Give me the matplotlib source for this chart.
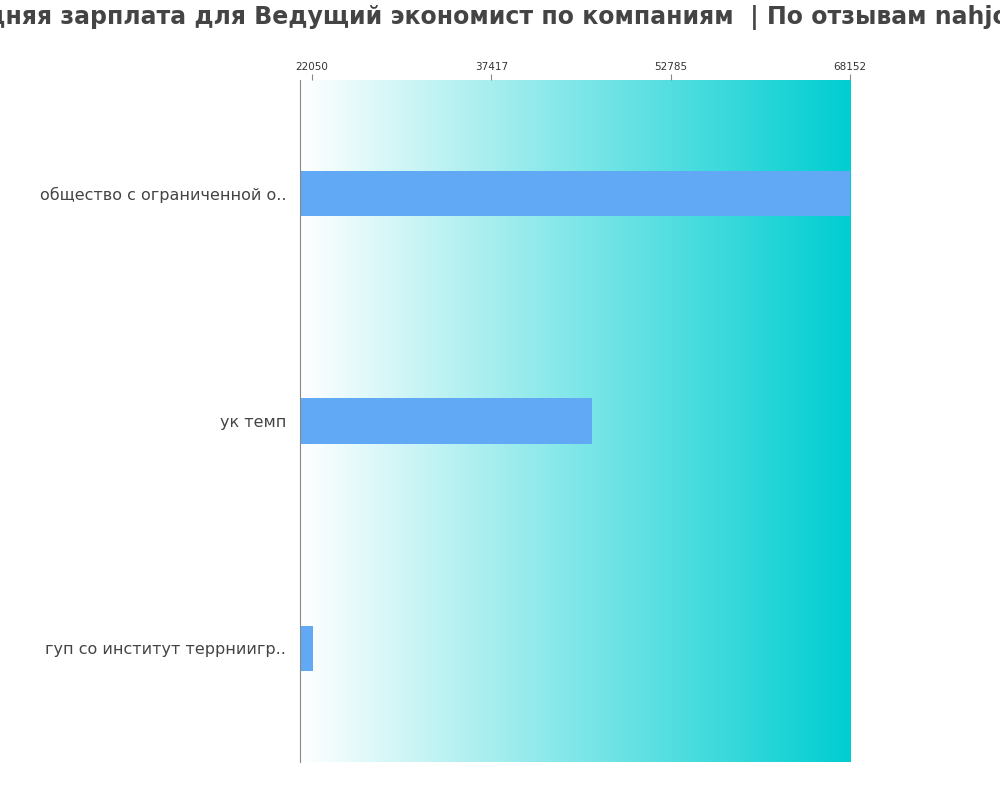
import matplotlib
matplotlib.use("Agg")
import matplotlib.pyplot as plt
import numpy as np
from matplotlib.colors import LinearSegmentedColormap

companies = ['общество с ограниченной о..', 'ук темп', 'гуп со институт террниигр..']
salaries = [68152, 46040, 22100]
ticks = [22050, 37417, 52785, 68152]
x_min = 21020

plt.rcParams['font.family'] = ['DejaVu Sans']
fig = plt.figure(figsize=(10, 8), dpi=100)
ax = fig.add_axes([0.3, 0.0475, 0.55, 0.8525])

grad = np.linspace(0, 1, 256).reshape(1, -1)
cmap = LinearSegmentedColormap.from_list('g', ['#ffffff', '#00ced1'])
ax.imshow(grad, cmap=cmap, aspect='auto', extent=[0, 1, 0, 1],
          transform=ax.transAxes, zorder=0)

y = np.arange(len(companies))
ax.barh(y, [s - x_min for s in salaries], left=x_min, height=0.2,
        color='#61a8f5', zorder=2)
ax.set_xlim(x_min, 68152)
ax.set_ylim(len(companies) - 0.5, -0.5)
ax.set_yticks(y)
ax.set_yticklabels(companies, fontsize=11.5, color='#444444')
ax.tick_params(axis='y', length=0, pad=10)
ax.xaxis.tick_top()
ax.set_xticks(ticks)
ax.set_xticklabels([str(t) for t in ticks], fontsize=7.5, color='#333333')
ax.tick_params(axis='x', colors='#888888', labelcolor='#333333', length=4, pad=2)
for s in ['top', 'right', 'bottom']:
    ax.spines[s].set_visible(False)
ax.spines['left'].set_color('#888888')

fig.text(0.5, 0.978, 'Средняя зарплата для Ведущий экономист по компаниям  | По отзывам nahjob.ru',
         ha='center', va='center', fontsize=17, fontweight='bold', color='#444444')

fig.savefig('out.png')
